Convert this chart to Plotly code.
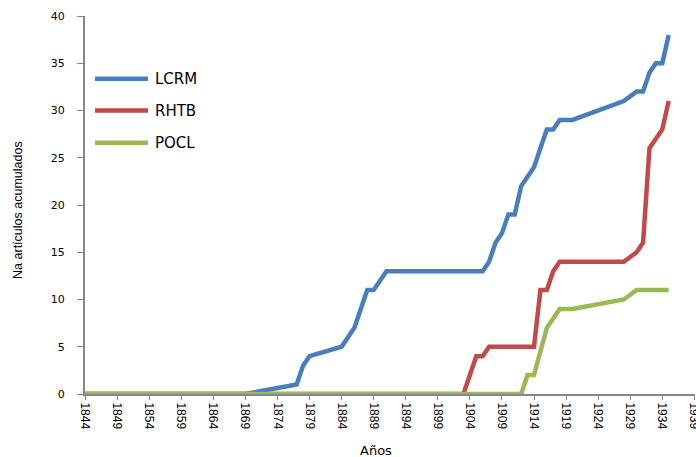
import plotly.graph_objects as go

### data ###

# LCRM (blue)
lcrm_years = [1844, 1869, 1877, 1878, 1879, 1884, 1885, 1886, 1887, 1888, 1889,
              1890, 1891, 1906, 1907, 1908, 1909, 1910, 1911, 1912, 1913, 1914,
              1915, 1916, 1917, 1918, 1920, 1928, 1930, 1931, 1932, 1933, 1934,
              1935]
lcrm_vals = [0, 0, 1, 3, 4, 5, 6, 7, 9, 11, 11,
             12, 13, 13, 14, 16, 17, 19, 19, 22, 23, 24,
             26, 28, 28, 29, 29, 31, 32, 32, 34, 35, 35,
             38]

# RHTB (red)
rhtb_years = [1844, 1903, 1905, 1906, 1907, 1914, 1915, 1916, 1917, 1918,
              1928, 1930, 1931, 1932, 1933, 1934, 1935]
rhtb_vals = [0, 0, 4, 4, 5, 5, 11, 11, 13, 14,
             14, 15, 16, 26, 27, 28, 31]

# POCL (green)
pocl_years = [1844, 1912, 1913, 1914, 1916, 1918, 1920, 1928, 1930, 1935]
pocl_vals = [0, 0, 2, 2, 7, 9, 9, 10, 11, 11]

names = ["LCRM", "RHTB", "POCL"]
colors = ["#4A7EBB", "#BE4B48", "#98B954"]

x_ticks = list(range(1844, 1940, 5))
y_ticks = list(range(0, 41, 5))

### figure ###

fig = go.Figure()

series = [(lcrm_years, lcrm_vals), (rhtb_years, rhtb_vals), (pocl_years, pocl_vals)]
for (xs, ys), name, col in zip(series, names, colors):
    fig.add_trace(go.Scatter(x=xs, y=ys, name=name, mode="lines",
                             line=dict(color=col, width=4.5),
                             cliponaxis=False, showlegend=False))

# legend drawn by hand so the sample lines are as long as in the original
leg_y = [0.834, 0.750, 0.665]
for name, col, ly in zip(names, colors, leg_y):
    fig.add_shape(type="line", xref="paper", yref="paper",
                  x0=0.0164, x1=0.1033, y0=ly, y1=ly,
                  line=dict(color=col, width=4.5))
    fig.add_annotation(text=name, xref="paper", yref="paper",
                       x=0.111, y=ly, xanchor="left", yanchor="middle",
                       showarrow=False,
                       font=dict(family="DejaVu Sans", size=15, color="#000"))

# axis titles
fig.add_annotation(text="Na artículos acumulados", xref="paper", yref="paper",
                   x=-0.1098, y=0.487, textangle=-90, showarrow=False,
                   xanchor="center", yanchor="middle",
                   font=dict(family="Liberation Sans", size=12.5, color="#000"))
fig.add_annotation(text="Años", xref="paper", yref="paper",
                   x=0.477, y=-0.150, showarrow=False,
                   xanchor="center", yanchor="middle",
                   font=dict(family="DejaVu Sans", size=13, color="#000"))

fig.update_layout(width=696, height=457,
                  margin=dict(l=85, r=1, t=16, b=63, autoexpand=False),
                  paper_bgcolor="white", plot_bgcolor="white",
                  showlegend=False,
                  xaxis=dict(range=[1844, 1939.1], tickvals=x_ticks,
                             ticktext=[str(v) for v in x_ticks],
                             tickangle=90, ticks="outside", ticklen=4,
                             tickcolor="#868686", showgrid=False,
                             showline=True, linecolor="#868686", linewidth=2,
                             zeroline=False, automargin=False,
                             ticklabeloverflow="allow",
                             tickfont=dict(family="Liberation Sans Narrow, Liberation Sans",
                                           size=12, color="#000")),
                  yaxis=dict(range=[0, 40], tickvals=y_ticks,
                             ticks="outside", ticklen=6, tickcolor="#868686",
                             showgrid=False, showline=True, linecolor="#868686",
                             linewidth=2, zeroline=False, ticklabelstandoff=10,
                             automargin=False,
                             tickfont=dict(family="DejaVu Sans", size=11,
                                           color="#000")))

# drop the page's default body margin so the chart sits at the window corner
fig.write_html("out.html", config=dict(displayModeBar=False),
               post_script="document.body.style.margin='0';"
                           "document.body.style.overflow='hidden';")
